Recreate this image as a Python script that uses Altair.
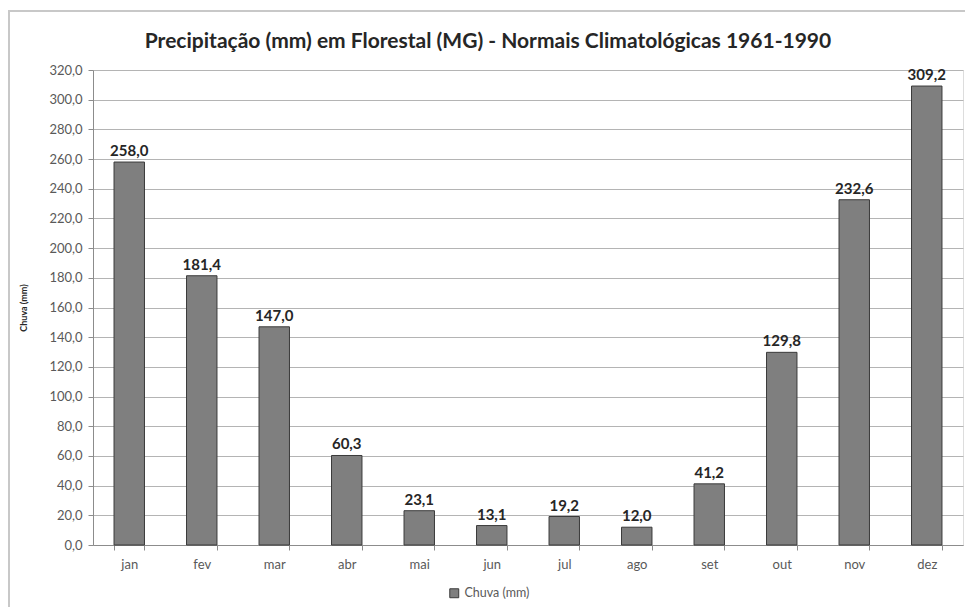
import altair as alt
import pandas as pd

months = ["jan", "fev", "mar", "abr", "mai", "jun", "jul", "ago", "set", "out", "nov", "dez"]
chuva = [258.0, 181.4, 147.0, 60.3, 23.1, 13.1, 19.2, 12.0, 41.2, 129.8, 232.6, 309.2]
y_ticks = list(range(0, 321, 20))

df = pd.DataFrame({"mes": months, "chuva": chuva, "serie": ["Chuva (mm)"] * len(months)})

FONT = "Lato"

base = alt.Chart(df)

x_enc = alt.X(
    "mes:N",
    sort=months,
    title=None,
    scale=alt.Scale(paddingInner=0.58, paddingOuter=0.29),
    axis=alt.Axis(
        tickBand="extent",
        labelAngle=0,
        labelFont=FONT,
        labelFontSize=13,
        labelColor="#595959",
        labelPadding=8,
        domainColor="#8c8c8c",
        tickColor="#8c8c8c",
        tickSize=5,
    ),
)
y_enc = alt.Y(
    "chuva:Q",
    title="Chuva (mm)",
    scale=alt.Scale(domain=[0, 320], nice=False),
    axis=alt.Axis(
        values=y_ticks,
        labelOverlap=False,
        labelExpr="replace(format(datum.value, '.1f'), '.', ',')",
        labelFont=FONT,
        labelFontSize=13,
        labelColor="#595959",
        labelPadding=6,
        titleFont=FONT,
        titleFontSize=9,
        titleFontWeight="bold",
        titleColor="#262626",
        titlePadding=20,
        domainColor="#8c8c8c",
        tickColor="#8c8c8c",
        tickSize=5,
        gridColor="#b4b4b4",
        gridWidth=1,
    ),
)

bars = base.mark_bar(stroke="#3a3a3a", strokeWidth=1).encode(
    x=x_enc,
    y=y_enc,
    color=alt.Color(
        "serie:N",
        scale=alt.Scale(range=["#7f7f7f"]),
        legend=alt.Legend(
            title=None,
            orient="none",
            legendX=355,
            legendY=517,
            symbolType="square",
            symbolSize=80,
            symbolStrokeColor="#3a3a3a",
            symbolStrokeWidth=1,
            labelFont=FONT,
            labelFontSize=12.5,
            labelColor="#595959",
        ),
    ),
)

labels = base.transform_calculate(
    lab="replace(format(datum.chuva, '.1f'), '.', ',')"
).mark_text(
    dy=-11, font=FONT, fontSize=15, fontWeight="bold", color="#262626"
).encode(
    x=x_enc,
    y=y_enc,
    text="lab:N",
)

frame = base.mark_rect(filled=False, stroke="#c8c8c8", strokeWidth=1.5).encode(
    x=alt.value(-84), x2=alt.value(900), y=alt.value(-59), y2=alt.value(600)
)

chart = alt.layer(frame, bars, labels).properties(
    width=870,
    height=475,
    padding={"left": 93, "top": 70, "right": 2, "bottom": 62},
    autosize=alt.AutoSizeParams(type="none"),
    title=alt.TitleParams(
        "Precipitação (mm) em Florestal (MG) - Normais Climatológicas 1961-1990",
        font=FONT,
        fontSize=21,
        fontWeight="bold",
        color="#262626",
        anchor="middle",
        dx=-40,
        offset=-42,
    ),
).configure_view(stroke=None).configure(background="white")

chart.save("out.html", embed_options={"renderer": "svg", "actions": False})
